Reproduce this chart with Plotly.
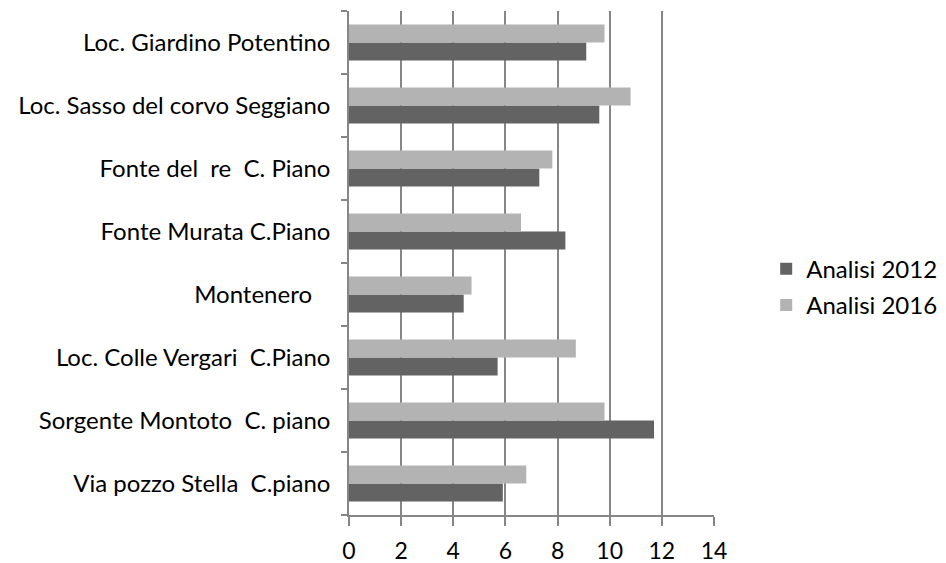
import plotly.graph_objects as go

NB = "\u00a0"
categories = [
    "Via pozzo Stella" + NB + NB + "C.piano",
    "Sorgente Montoto" + NB + NB + "C. piano",
    "Loc. Colle Vergari" + NB + NB + "C.Piano",
    "Montenero" + NB + NB + NB,
    "Fonte Murata C.Piano",
    "Fonte del" + NB + NB + "re" + NB + NB + "C. Piano",
    "Loc. Sasso del corvo Seggiano",
    "Loc. Giardino Potentino",
]
analisi_2012 = [5.9, 11.7, 5.7, 4.4, 8.3, 7.3, 9.6, 9.1]
analisi_2016 = [6.8, 9.8, 8.7, 4.7, 6.6, 7.8, 10.8, 9.8]
x_ticks = [0, 2, 4, 6, 8, 10, 12, 14]

FONT = "Lato, Liberation Sans, sans-serif"

fig = go.Figure()
fig.add_trace(go.Bar(y=categories, x=analisi_2012, orientation="h",
                     name="Analisi 2012", legendgroup="a",
                     marker=dict(color="#636363", line=dict(width=0))))
fig.add_trace(go.Bar(y=categories, x=analisi_2016, orientation="h",
                     name="Analisi 2016", legendgroup="b",
                     marker=dict(color="#b3b3b3", line=dict(width=0))))

fig.update_layout(
    width=946, height=563,
    margin=dict(l=349, r=232, t=11, b=48, autoexpand=False),
    paper_bgcolor="white", plot_bgcolor="white",
    barmode="group", bargap=0.43, bargroupgap=0,
    font=dict(family=FONT, size=24, color="#000000"),
    showlegend=True,
    legend=dict(x=1.143, y=0.452, xanchor="left", yanchor="middle",
                font=dict(family=FONT, size=24, color="#000000"),
                traceorder="grouped", itemwidth=30, tracegroupgap=2),
    xaxis=dict(range=[0, 14], tickvals=x_ticks, ticktext=[str(v) for v in x_ticks],
               showgrid=True, gridcolor="#868686", gridwidth=1.5,
               showline=True, linecolor="#868686", linewidth=1.5,
               ticks="outside", ticklen=9, tickcolor="#868686", tickwidth=1.5,
               ticklabelstandoff=6, zeroline=False, fixedrange=True,
               tickfont=dict(family=FONT, size=23, color="#000000")),
    yaxis=dict(type="category", categoryorder="array", categoryarray=categories,
               showgrid=False, showline=True, linecolor="#868686", linewidth=1.5,
               ticks="outside", ticklen=6, tickcolor="#868686", tickwidth=1.5,
               tickson="boundaries", ticklabelstandoff=12, fixedrange=True,
               tickfont=dict(family=FONT, size=24, color="#000000")),
)

fig.write_html("out.html", config={"displayModeBar": False},
               post_script="document.body.style.margin='0px';")
